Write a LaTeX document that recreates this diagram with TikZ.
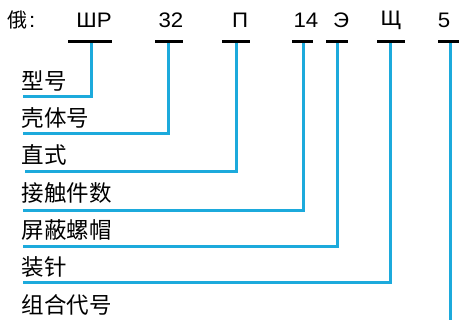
\documentclass[tikz,border=0pt]{standalone}
\usepackage{fontspec}
\setmainfont{Liberation Sans}
\newfontfamily\cjk{Noto Sans CJK SC}
\usepackage{graphicx}
\usepackage{tikz}
\usetikzlibrary{calc}
\definecolor{leadblue}{RGB}{28,170,220}
\newcommand{\wcode}[1]{\scalebox{1.06}[1]{#1}}
\tikzset{
every picture/.style={line width=0.8pt},
%%%%%%%%%%  Node styles
code/.style={inner sep=0, outer sep=0, font=\fontsize{21}{24}\selectfont},
lbl/.style={anchor=west, inner sep=0, outer sep=0, font=\cjk\fontsize{22.5}{26}\selectfont},
%%%%%%%%%%  line styles
bar/.style={line width=2.5pt, black},
lead/.style={line width=3pt, leadblue, line join=miter},
}
\begin{document}
\begin{tikzpicture}[x=1pt,y=-1pt]
\useasboundingbox (0,0) rectangle (459,320);
\clip (0,0) rectangle (459,320);
%% top row
\node[code, anchor=west] (ru) at (7,20) {{\cjk\fontsize{20}{24}\selectfont 俄}\kern2pt\wcode{:}};
\node[code] (t1) at (94,20.5) {\wcode{ШР}};
\node[code] (t2) at (171,20.5) {\wcode{32}};
\node[code] (t3) at (240,20.5) {\wcode{П}};
\node[code] (t4) at (306,20.5) {\wcode{14}};
\node[code] (t5) at (341,20.5) {\wcode{Э}};
\node[code] (t6) at (391,20.5) {\wcode{Щ}};
\node[code] (t7) at (444,20.5) {\wcode{5}};
%% labels, row by row
\node[lbl] (l1) at (22,81) {型号};
\node[lbl] (l2) at (22,118) {壳体号};
\node[lbl] (l3) at (22,155) {直式};
\node[lbl] (l4) at (22,193) {接触件数};
\node[lbl] (l5) at (22,230) {屏蔽螺帽};
\node[lbl] (l6) at (22,267) {装针};
\node[lbl] (l7) at (22,305) {组合代号};
%% leader ends
\coordinate (c1) at (91,42);  \coordinate (e1) at (23,97);
\coordinate (c2) at (168,42); \coordinate (e2) at (23,134);
\coordinate (c3) at (236,42); \coordinate (e3) at (25,172);
\coordinate (c4) at (303,42); \coordinate (e4) at (23,211);
\coordinate (c5) at (337,42); \coordinate (e5) at (23,247);
\coordinate (c6) at (390,42); \coordinate (e6) at (23,283);
\coordinate (c7) at (450,42); \coordinate (e7) at (450,322);
%% leaders
\draw[lead] (c1) |- (e1);
\draw[lead] (c2) |- (e2);
\draw[lead] (c3) |- (e3);
\draw[lead] (c4) |- (e4);
\draw[lead] (c5) |- (e5);
\draw[lead] (c6) |- (e6);
\draw[lead] (c7) -- (e7);
%% bars under the code
\coordinate (b1l) at (68,41.5);  \coordinate (b1r) at (112,41.5);
\coordinate (b2l) at (155,41.5); \coordinate (b2r) at (183,41.5);
\coordinate (b3l) at (222,41.5); \coordinate (b3r) at (250,41.5);
\coordinate (b4l) at (292,41.5); \coordinate (b4r) at (313,41.5);
\coordinate (b5l) at (326,41.5); \coordinate (b5r) at (348,41.5);
\coordinate (b6l) at (377,41.5); \coordinate (b6r) at (405,41.5);
\coordinate (b7l) at (438,41.5); \coordinate (b7r) at (459,41.5);
\draw[bar] (b1l) -- (b1r);
\draw[bar] (b2l) -- (b2r);
\draw[bar] (b3l) -- (b3r);
\draw[bar] (b4l) -- (b4r);
\draw[bar] (b5l) -- (b5r);
\draw[bar] (b6l) -- (b6r);
\draw[bar] (b7l) -- (b7r);
\end{tikzpicture}
\end{document}
